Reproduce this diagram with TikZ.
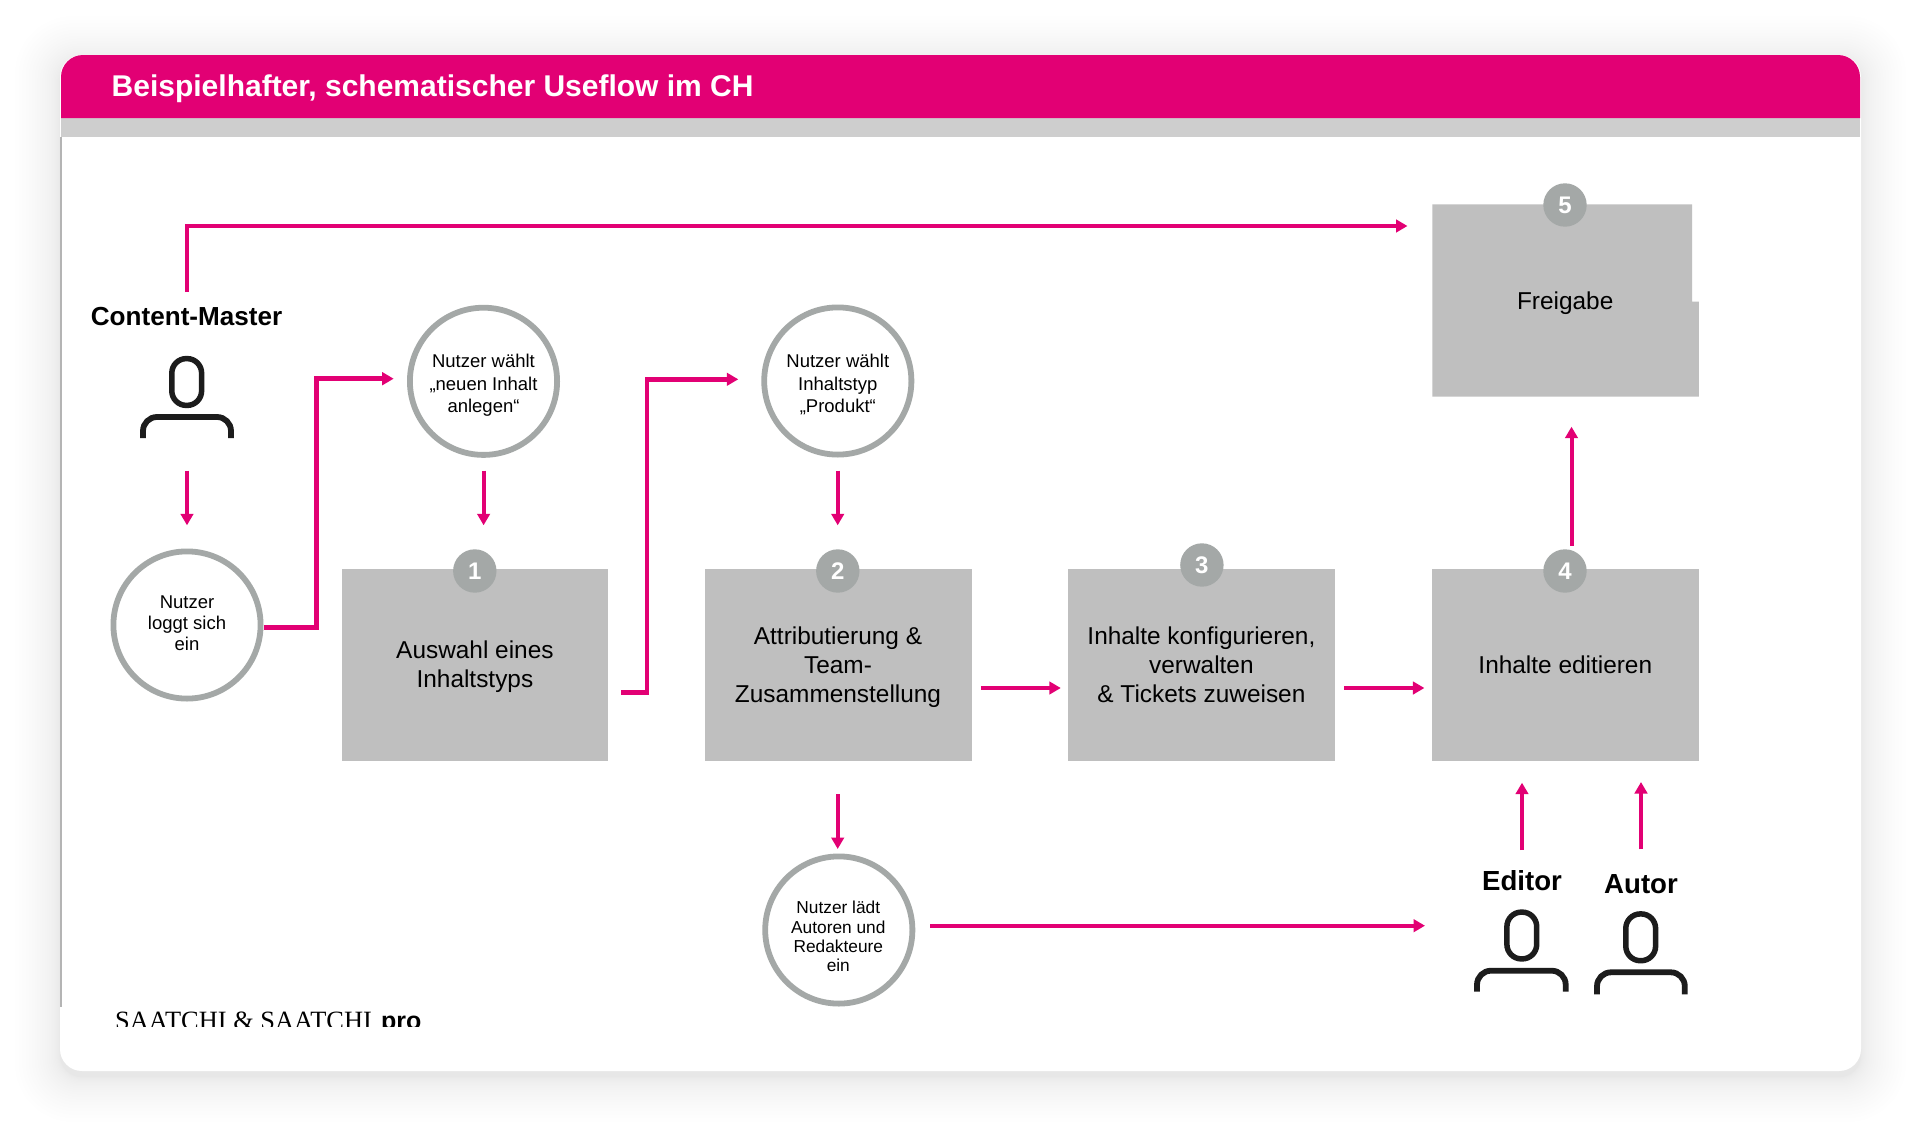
\documentclass[tikz,border=0pt]{standalone}
\usepackage{fontspec}
\setmainfont{Liberation Sans}
\newfontfamily\logoserif{Liberation Serif}
\usetikzlibrary{arrows.meta}
\definecolor{tmag}{HTML}{E20074}
\definecolor{barg}{HTML}{CECECE}
\definecolor{boxg}{HTML}{BFBFBF}
\definecolor{ringg}{HTML}{A4A8A7}
\definecolor{edgeg}{HTML}{B4B4B4}
\definecolor{inkc}{HTML}{1C1C1C}
\tikzset{
  stepbox/.style={rectangle,fill=boxg,inner sep=0pt,outer sep=0pt,minimum width=266.6pt,minimum height=192pt},
  steptext/.style={inner sep=0pt,outer sep=0pt,align=center,text=black,font=\fontsize{24.4}{29}\selectfont},
  ringnode/.style={circle,draw=ringg,line width=5.8pt,fill=white,inner sep=0pt,outer sep=0pt,minimum size=147.2pt},
  ringtext/.style={inner sep=0pt,outer sep=0pt,align=center,text=black,font=\fontsize{18.5}{22.6}\selectfont},
  badge/.style={circle,fill=ringg,inner sep=0pt,outer sep=0pt,minimum size=43.4pt,text=white,font=\fontsize{24}{24}\bfseries\selectfont},
  flow/.style={draw=tmag,line width=4pt,-{Triangle[length=11.5pt,width=12.5pt]}},
  rolelabel/.style={inner sep=0pt,outer sep=0pt,anchor=base,text=black,font=\bfseries\fontsize{27.6}{30}\selectfont},
  head/.style={rectangle,draw=inkc,line width=5.5pt,inner sep=0pt,outer sep=0pt,rounded corners=14.5pt,minimum width=29.8pt,minimum height=46.8pt},
  shoulders/.style={draw=inkc,line width=5.8pt,rounded corners=14pt},
}
\begin{document}
\begin{tikzpicture}[x=1pt,y=-1pt]
\useasboundingbox (0,0) rectangle (1920,1135);
% soft shadow
\foreach \i in {1,...,24}{
  \pgfmathsetmacro{\d}{0.078*\i*\i}
  \pgfmathsetmacro{\r}{22+\d*0.8}
  \fill[black,opacity=0.0045,rounded corners=\r pt] (60-\d,55+6-\d) rectangle (1861+\d,1071+6+\d);
}
% card
\fill[white,rounded corners=22pt] (60,55) rectangle (1861,1071);
\draw[edgeg,line width=1.6pt] (61,137) -- (61,1007);
\fill[barg] (61,118) rectangle (1860,137);
\fill[tmag] (61,118) [rounded corners=22pt] -- (61,55) -- (1860,55) [sharp corners] -- (1860,118) -- cycle;
\node[anchor=base west,inner sep=0pt,text=white,font=\bfseries\fontsize{30}{32}\selectfont] (title) at (111.5,96) {Beispielhafter, schematischer Useflow im CH};
% logo, cut off at its lower part
\begin{scope}
\clip (100,1000) rectangle (440,1026);
\node[anchor=base west,inner sep=0pt,text=black,font=\logoserif\fontsize{26.4}{28}\selectfont] (logoa) at (115,1029) {SAATCHI \& SAATCHI};
\node[anchor=base west,inner sep=0pt,text=black,font=\bfseries\fontsize{25}{28}\selectfont] (logob) at (381,1029.5) {pro};
\end{scope}
% step boxes
\node[stepbox] (b1) at (475,664.7) {};
\node[stepbox] (b2) at (838.2,664.7) {};
\node[stepbox] (b3) at (1201.3,664.7) {};
\node[stepbox] (b4) at (1565.6,664.7) {};
\fill[boxg] (1432.3,204.3) -- (1692,204.3) -- (1692,301.7) -- (1698.8,301.7) -- (1698.8,396.7) -- (1432.3,396.7) -- cycle;
\node[steptext] (b1t) at (474.9,667.1) {Auswahl eines\\Inhaltstyps};
\node[steptext] (b2t) at (838,667.3) {Attributierung \&\\Team-\\Zusammenstellung};
\node[steptext] (b3t) at (1201.4,665.2) {Inhalte konfigurieren,\\verwalten\\\& Tickets zuweisen};
\node[steptext] (b4t) at (1565.3,664.7) {Inhalte editieren};
\node[steptext] (b5t) at (1565.2,303.3) {Freigabe};
% badges
\node[badge] (n1) at (474.8,571) {1};
\node[badge] (n2) at (837.8,571) {2};
\node[badge] (n3) at (1201.9,565) {3};
\node[badge] (n4) at (1565,571) {4};
\node[badge] (n5) at (1565,205) {5};
% rings
\node[ringnode] (c0) at (187,625) {};
\node[ringnode] (c1) at (483.5,381.3) {};
\node[ringnode] (c2) at (837.8,381) {};
\node[ringnode] (c3) at (838.8,930) {};
\node[ringtext,font=\fontsize{18.5}{20.8}\selectfont] (c0t) at (187,623.2) {Nutzer\\loggt sich\\ein};
\node[ringtext] (c1t) at (483.5,385.5) {Nutzer wählt\\„neuen Inhalt\\anlegen“};
\node[ringtext] (c2t) at (837.8,384.5) {Nutzer wählt\\Inhaltstyp\\„Produkt“};
\node[ringtext,font=\fontsize{17.3}{19.3}\selectfont] (c3t) at (838.3,936.6) {Nutzer lädt\\Autoren und\\Redakteure\\ein};
% roles
\node[rolelabel,font=\bfseries\fontsize{26.1}{30}\selectfont] (cm) at (186.6,325) {Content-Master};
\node[rolelabel] (ed) at (1522,890.7) {Editor};
\node[rolelabel] (au) at (1641,893) {Autor};
% person icons
\node[head] (hcm) at (186.7,382) {};
\coordinate (scmA) at (143,438); \coordinate (scmB) at (143,417); \coordinate (scmC) at (231,417); \coordinate (scmD) at (231,438);
\draw[shoulders] (scmA) -- (scmB) -- (scmC) -- (scmD);
\node[head] (hed) at (1521.8,935.5) {};
\coordinate (sedA) at (1477,991.7); \coordinate (sedB) at (1477,970.7); \coordinate (sedC) at (1565.7,970.7); \coordinate (sedD) at (1565.7,991.7);
\draw[shoulders] (sedA) -- (sedB) -- (sedC) -- (sedD);
\node[head] (hau) at (1640.7,937.3) {};
\coordinate (sauA) at (1597,994.3); \coordinate (sauB) at (1597,972.3); \coordinate (sauC) at (1684.8,972.3); \coordinate (sauD) at (1684.8,994.3);
\draw[shoulders] (sauA) -- (sauB) -- (sauC) -- (sauD);
% connector ends
\coordinate (a1) at (186.7,292); \coordinate (a1k) at (186.7,226); \coordinate (a1e) at (1407.5,226);
\coordinate (a2) at (187,470.7); \coordinate (a2e) at (187,525.3);
\coordinate (a3) at (264,627.7); \coordinate (a3k) at (316.3,627.7); \coordinate (a3l) at (316.3,378.7); \coordinate (a3e) at (393.7,378.7);
\coordinate (a4) at (483.6,470.7); \coordinate (a4e) at (483.6,525.3);
\coordinate (a5) at (621.2,692.3); \coordinate (a5k) at (647,692.3); \coordinate (a5l) at (647,379.3); \coordinate (a5e) at (738.3,379.3);
\coordinate (a6) at (837.7,470.7); \coordinate (a6e) at (837.7,525.3);
\coordinate (a7) at (980.8,688); \coordinate (a7e) at (1060.8,688);
\coordinate (a8) at (1344.4,688); \coordinate (a8e) at (1424.4,688);
\coordinate (a9) at (1571.5,545.7); \coordinate (a9e) at (1571.5,426.7);
\coordinate (a10) at (837.7,794); \coordinate (a10e) at (837.7,849);
\coordinate (a11) at (930,925.7); \coordinate (a11e) at (1425,925.7);
\coordinate (a12) at (1522,850); \coordinate (a12e) at (1522,782.7);
\coordinate (a13) at (1641,849.3); \coordinate (a13e) at (1641,782);
% connectors
\draw[flow,line width=4.3pt] (a1) -- (a1k) -- (a1e);
\draw[flow] (a2) -- (a2e);
\draw[flow,line width=4.8pt] (a3) -- (a3k) -- (a3l) -- (a3e);
\draw[flow] (a4) -- (a4e);
\draw[flow,line width=4.6pt] (a5) -- (a5k) -- (a5l) -- (a5e);
\draw[flow] (a6) -- (a6e);
\draw[flow] (a7) -- (a7e);
\draw[flow] (a8) -- (a8e);
\draw[flow] (a9) -- (a9e);
\draw[flow] (a10) -- (a10e);
\draw[flow] (a11) -- (a11e);
\draw[flow] (a12) -- (a12e);
\draw[flow] (a13) -- (a13e);
\end{tikzpicture}
\end{document}
